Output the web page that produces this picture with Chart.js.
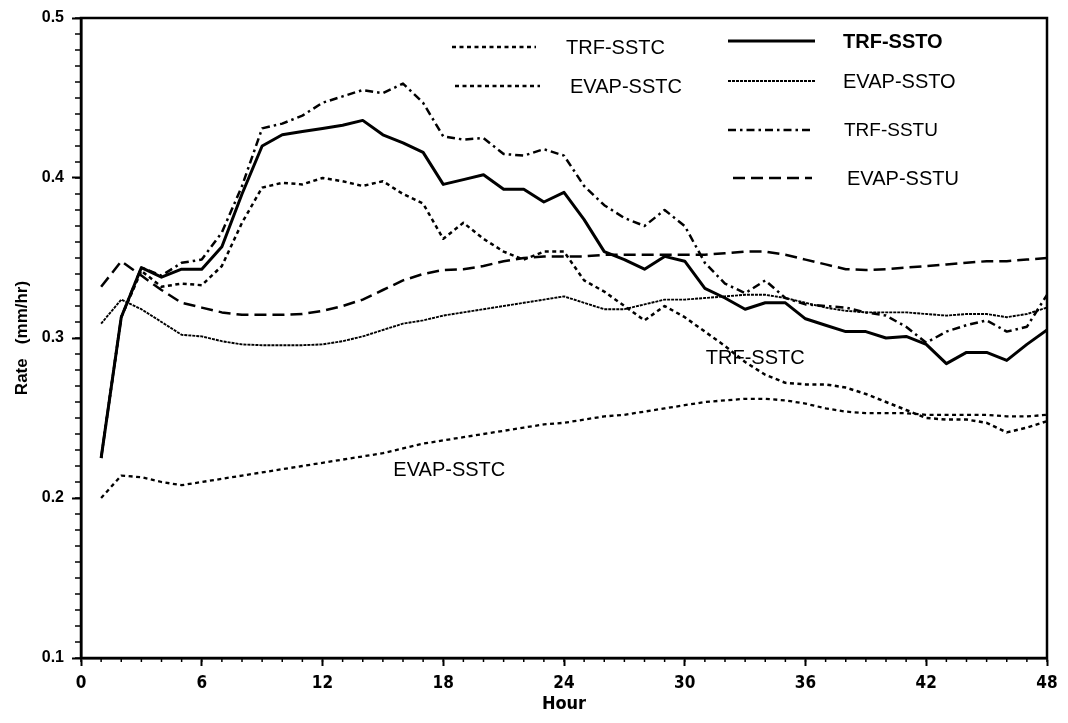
<!DOCTYPE html>
<html><head><meta charset="utf-8">
<script src="https://cdn.jsdelivr.net/npm/chart.js@4.4.1/dist/chart.umd.min.js"></script>
<style>html,body{margin:0;padding:0;background:#fff;}#wrap{width:1068px;height:723px;}</style>
</head><body><div id="wrap"><canvas id="c" width="1068" height="723"></canvas></div>
<script>
const hours = [1,2,3,4,5,6,7,8,9,10,11,12,13,14,15,16,17,18,19,20,21,22,23,24,25,26,27,28,29,30,31,32,33,34,35,36,37,38,39,40,41,42,43,44,45,46,47,48];
const seriesNames = ['TRF-SSTC','EVAP-SSTC','TRF-SSTO','EVAP-SSTO','TRF-SSTU','EVAP-SSTU'];
const trfSSTC = [0.225,0.313,0.342,0.332,0.334,0.333,0.345,0.372,0.394,0.397,0.396,0.400,0.398,0.395,0.398,0.390,0.384,0.362,0.372,0.362,0.354,0.349,0.354,0.354,0.336,0.329,0.320,0.311,0.320,0.313,0.304,0.295,0.285,0.277,0.272,0.271,0.271,0.269,0.265,0.260,0.255,0.250,0.249,0.249,0.247,0.241,0.244,0.248];
const evapSSTC = [0.200,0.214,0.213,0.210,0.208,0.210,0.212,0.214,0.216,0.218,0.220,0.222,0.224,0.226,0.228,0.231,0.234,0.236,0.238,0.240,0.242,0.244,0.246,0.247,0.249,0.251,0.252,0.254,0.256,0.258,0.260,0.261,0.262,0.262,0.261,0.259,0.256,0.254,0.253,0.253,0.253,0.252,0.252,0.252,0.252,0.251,0.251,0.252];
const trfSSTO = [0.225,0.313,0.344,0.338,0.343,0.343,0.357,0.390,0.420,0.427,0.429,0.431,0.433,0.436,0.427,0.422,0.416,0.396,0.399,0.402,0.393,0.393,0.385,0.391,0.374,0.354,0.349,0.343,0.351,0.348,0.331,0.325,0.318,0.322,0.322,0.312,0.308,0.304,0.304,0.300,0.301,0.296,0.284,0.291,0.291,0.286,0.296,0.305];
const evapSSTO = [0.309,0.324,0.318,0.310,0.302,0.301,0.298,0.296,0.2955,0.2955,0.2955,0.296,0.298,0.301,0.305,0.309,0.311,0.314,0.316,0.318,0.320,0.322,0.324,0.326,0.322,0.318,0.318,0.321,0.324,0.324,0.325,0.326,0.327,0.327,0.325,0.322,0.319,0.317,0.316,0.316,0.316,0.315,0.314,0.315,0.315,0.313,0.315,0.319];
const trfSSTU = [0.225,0.313,0.344,0.339,0.347,0.349,0.366,0.395,0.431,0.434,0.439,0.447,0.451,0.455,0.453,0.459,0.447,0.426,0.424,0.425,0.415,0.414,0.418,0.414,0.395,0.383,0.375,0.370,0.380,0.370,0.347,0.334,0.328,0.336,0.325,0.321,0.320,0.319,0.316,0.314,0.307,0.297,0.304,0.308,0.311,0.304,0.307,0.327];
const evapSSTU = [0.332,0.348,0.339,0.330,0.322,0.319,0.316,0.3145,0.3145,0.3145,0.315,0.317,0.320,0.324,0.330,0.336,0.340,0.3425,0.343,0.345,0.348,0.350,0.351,0.351,0.351,0.352,0.352,0.352,0.352,0.352,0.352,0.353,0.354,0.354,0.352,0.349,0.346,0.343,0.3425,0.343,0.344,0.345,0.346,0.347,0.348,0.348,0.349,0.350];
const xMin = 0, xMax = 48, xMajorStep = 6, xMinorStep = 1;
const yMin = 0.1, yMax = 0.5, yMajorStep = 0.1, yMinorStep = 0.01;
const xTitle = 'Hour';
const yTitle = 'Rate   (mm/hr)';
const annotations = [
  {text:'TRF-SSTC', x:33.5, y:0.2875},
  {text:'EVAP-SSTC', x:18.3, y:0.2175}
];

const styles = [
  {borderWidth:2.5, borderDash:[4,3.5]},
  {borderWidth:2.3, borderDash:[4,3.5]},
  {borderWidth:3, borderDash:[]},
  {borderWidth:1.9, borderDash:[3,1]},
  {borderWidth:2.5, borderDash:[8,4,2.5,4]},
  {borderWidth:2.5, borderDash:[12,6]}
];
const values = [trfSSTC, evapSSTC, trfSSTO, evapSSTO, trfSSTU, evapSSTU];
const datasets = values.map((v,i)=>({
  label: seriesNames[i],
  data: hours.map((h,j)=>({x:h, y:v[j]})),
  borderColor:'#000',
  borderWidth: styles[i].borderWidth,
  borderDash: styles[i].borderDash,
  borderCapStyle:'butt',
  borderJoinStyle:'round',
  pointRadius:0,
  tension:0,
  fill:false
}));

const legendLayout = [
  {sx0:452, sx1:536, y:47, tx:566, font:'20px "Liberation Sans", Arial, sans-serif'},
  {sx0:455, sx1:540, y:86, tx:570, font:'20px "Liberation Sans", Arial, sans-serif'},
  {sx0:728, sx1:815, y:41, tx:843, font:'bold 20px "Liberation Sans", Arial, sans-serif'},
  {sx0:728, sx1:815, y:81, tx:843, font:'20px "Liberation Sans", Arial, sans-serif'},
  {sx0:728, sx1:813, y:130, tx:844, font:'19px "Liberation Sans", Arial, sans-serif'},
  {sx0:733, sx1:812, y:178, tx:847, font:'20px "Liberation Sans", Arial, sans-serif'}
];

const customPlugin = {
  id:'custom',
  afterDatasetsDraw(chart){
    const ctx = chart.ctx, a = chart.chartArea;
    const xs = chart.scales.x, ys = chart.scales.y;
    ctx.save();
    ctx.strokeStyle='#000'; ctx.lineWidth=2.5; ctx.setLineDash([]);
    ctx.strokeRect(a.left, a.top, a.right-a.left, a.bottom-a.top);
    ctx.lineWidth=1.5;
    for(let v=xMin; v<=xMax+1e-9; v+=xMinorStep){
      const px = xs.getPixelForValue(v);
      ctx.beginPath(); ctx.moveTo(px, a.bottom); ctx.lineTo(px, a.bottom+4); ctx.stroke();
    }
    for(let k=0; k<=Math.round((yMax-yMin)/yMinorStep); k++){
      const py = ys.getPixelForValue(yMin + k*yMinorStep);
      ctx.beginPath(); ctx.moveTo(a.left, py); ctx.lineTo(a.left-6, py); ctx.stroke();
    }
    chart.data.datasets.forEach((ds,i)=>{
      const L = legendLayout[i];
      ctx.strokeStyle='#000'; ctx.lineWidth=ds.borderWidth; ctx.setLineDash(ds.borderDash||[]);
      ctx.lineCap='butt';
      ctx.beginPath(); ctx.moveTo(L.sx0, L.y); ctx.lineTo(L.sx1, L.y); ctx.stroke();
      ctx.setLineDash([]);
      ctx.fillStyle='#000'; ctx.font=L.font; ctx.textBaseline='middle'; ctx.textAlign='left';
      ctx.fillText(ds.label, L.tx, L.y+1);
    });
    ctx.font='20px "Liberation Sans", Arial, sans-serif';
    ctx.textAlign='center'; ctx.textBaseline='middle';
    annotations.forEach(an=>{
      ctx.fillText(an.text, xs.getPixelForValue(an.x), ys.getPixelForValue(an.y));
    });
    ctx.restore();
  }
};

new Chart(document.getElementById('c'), {
  type:'line',
  data:{datasets},
  plugins:[customPlugin],
  options:{
    responsive:false,
    animation:false,
    devicePixelRatio:1,
    layout:{padding:{left:0, top:18, right:21, bottom:0}},
    plugins:{legend:{display:false}, tooltip:{enabled:false}},
    scales:{
      x:{
        type:'linear', min:xMin, max:xMax,
        afterFit(s){ s.height = 65; },
        ticks:{stepSize:xMajorStep, autoSkip:false, maxRotation:0, padding:7, color:'#000',
          font:{family:'"Liberation Sans Narrow","DejaVu Sans Condensed","Liberation Sans",Arial', size:17, weight:'bold'}},
        grid:{drawOnChartArea:false, drawTicks:true, tickLength:8, tickColor:'#000', tickWidth:2},
        border:{display:true, color:'#000', width:2.5},
        title:{display:true, text:xTitle, color:'#000', padding:{top:0,bottom:8},
          font:{family:'"Liberation Sans Narrow","DejaVu Sans Condensed","Liberation Sans",Arial', size:18, weight:'bold'}}
      },
      y:{
        type:'linear', min:yMin, max:yMax,
        afterFit(s){ s.width = 81; },
        ticks:{stepSize:yMajorStep, autoSkip:false, padding:8, color:'#000',
          callback:(v)=>v.toFixed(1),
          font:{family:'"Liberation Sans",Arial', size:16, weight:'bold'}},
        grid:{drawOnChartArea:false, drawTicks:true, tickLength:9, tickColor:'#000', tickWidth:2},
        border:{display:true, color:'#000', width:2.5},
        title:{display:true, text:yTitle, color:'#000', padding:{top:12,bottom:0},
          font:{family:'"Liberation Sans",Arial', size:17, weight:'bold'}}
      }
    }
  }
});
</script>
</body></html>
